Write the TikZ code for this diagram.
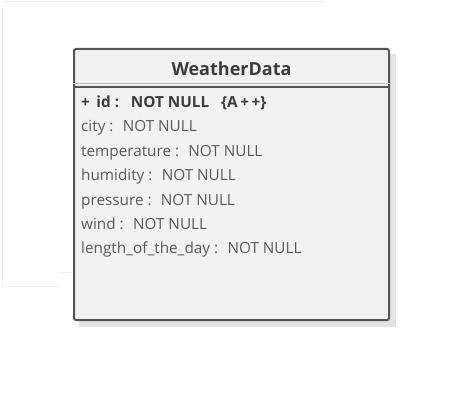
\documentclass[tikz,border=0pt]{standalone}
\usepackage{fontspec}
\setmainfont{Open Sans}
\usetikzlibrary{positioning,backgrounds}

\definecolor{boxfill}{HTML}{F2F2F2}
\definecolor{boxline}{HTML}{555555}
\definecolor{attrtext}{HTML}{5A5A5A}
\definecolor{keytext}{HTML}{3C3C3C}
\definecolor{shadowgray}{HTML}{E4E4E4}
\definecolor{faint}{HTML}{F1F1F1}

\begin{document}
\begin{tikzpicture}[x=1pt,y=1pt]
\tikzstyle{tabel} = [draw=boxline, fill=boxfill, line width=2pt, rounded corners=2pt, minimum width=315pt, minimum height=271pt, inner sep=0pt]
\tikzstyle{kop} = [font=\fontsize{18}{21}\selectfont\bfseries, text=keytext]
\tikzstyle{attr} = [font=\fontsize{15.3}{18}\selectfont, text=attrtext, inner sep=0pt, text height=1.6ex, text depth=.45ex]

\useasboundingbox (0,0) rectangle (457,-401);
\fill [white] (0,0) rectangle (457,-401);

% faint edges of the cut-out
\draw [faint, line width=1pt] (5,-2) -- (325,-2);
\draw [faint, line width=1pt] (2,-8) -- (2,-286) -- (58,-286);
\draw [faint, line width=1pt] (58,-272) -- (72,-272);

% shadow
\fill [shadowgray] (79,-54) rectangle (396,-327);

\node [tabel] (weather) at (231.5,-184.5) {};
\node [kop] (title) at (231.5,-68.5) {WeatherData};
\draw [boxline!40, line width=1pt] (weather.west |- 0,-84) -- (weather.east |- 0,-84);
\draw [boxline, line width=1.8pt] (weather.west |- 0,-87) -- (weather.east |- 0,-87);

\node [attr, anchor=west, text=keytext, font=\fontsize{15.3}{18}\selectfont\bfseries] (id) at (81,-104.5) {+\,~id :\,~ NOT NULL~~ \{A\,+\,+\}};
\node [attr, below=24.4pt of id.west, anchor=west] (city) {city :~ NOT NULL};
\node [attr, below=24.4pt of city.west, anchor=west] (temp) {temperature :~ NOT NULL};
\node [attr, below=24.4pt of temp.west, anchor=west] (humid) {humidity :~ NOT NULL};
\node [attr, below=24.4pt of humid.west, anchor=west] (press) {pressure :~ NOT NULL};
\node [attr, below=24.4pt of press.west, anchor=west] (wind) {wind :~ NOT NULL};
\node [attr, below=24.4pt of wind.west, anchor=west] (daylen) {length\_of\_the\_day :~ NOT NULL};

\end{tikzpicture}
\end{document}
